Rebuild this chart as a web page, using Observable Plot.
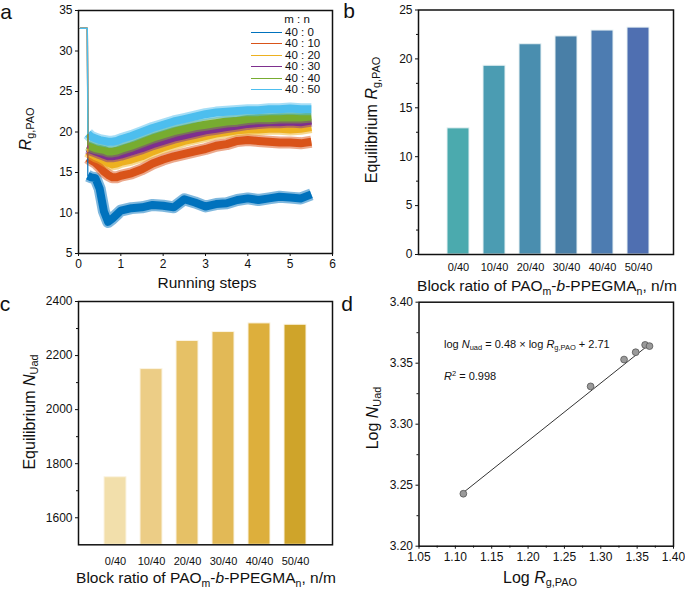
<!DOCTYPE html>
<html><head><meta charset="utf-8">
<script src="https://cdn.jsdelivr.net/npm/d3@7"></script>
<script src="https://cdn.jsdelivr.net/npm/@observablehq/plot@0.6"></script>
<style>
html,body{margin:0;padding:0;background:#fff;}
#fig{position:relative;width:685px;height:590px;overflow:hidden;font-family:"Liberation Sans",Arial,Helvetica,sans-serif;color:#111;}
#fig svg{position:absolute;}
.t{position:absolute;white-space:nowrap;line-height:1;}
.c{transform:translate(-50%,-50%);}
.l{transform:translate(0,-50%);}
.r{transform:translate(-50%,-50%) rotate(-90deg);}
sub{font-size:0.68em;vertical-align:-0.32em;line-height:0;}
sup{font-size:0.68em;vertical-align:0.45em;line-height:0;}
</style></head><body><div id="fig"></div>
<script>
// ---------- Panel a: Rg,PAO time series ----------
const steps = [0.04, 0.21, 0.22, 0.3, 0.4, 0.5, 0.6, 0.7, 0.8, 0.9, 1.0, 1.25, 1.5, 1.75, 2.0, 2.25, 2.5, 2.75, 3.0, 3.25, 3.5, 3.75, 4.0, 4.25, 4.5, 4.75, 5.0, 5.25, 5.5];
const series40_0  = [32.8, 32.8, 14.6, 14.4, 14.3, 13.0, 10.2, 8.9, 9.3, 9.8, 10.3, 10.6, 10.7, 11.0, 10.9, 10.7, 11.7, 11.3, 10.8, 11.1, 11.2, 11.6, 11.8, 11.6, 11.8, 12.0, 11.9, 11.8, 12.3];
const series40_10 = [32.8, 32.8, 16.8, 16.5, 16.2, 15.7, 15.1, 14.7, 14.4, 14.4, 14.6, 14.9, 15.4, 16.1, 16.6, 17.0, 17.3, 17.6, 17.9, 18.3, 18.5, 18.9, 19.0, 18.9, 18.8, 18.7, 18.7, 18.6, 18.8];
const series40_20 = [32.8, 32.8, 17.6, 17.3, 17.0, 16.8, 16.5, 16.2, 16.0, 16.1, 16.3, 16.6, 17.0, 17.6, 18.1, 18.5, 18.9, 19.2, 19.5, 19.8, 20.0, 20.2, 20.3, 20.3, 20.4, 20.4, 20.3, 20.4, 20.6];
const series40_30 = [32.8, 32.8, 18.0, 17.8, 17.6, 17.4, 17.2, 17.0, 17.0, 17.1, 17.2, 17.6, 18.0, 18.5, 18.9, 19.3, 19.6, 19.9, 20.2, 20.4, 20.6, 20.8, 21.0, 21.1, 21.2, 21.2, 21.3, 21.2, 21.4];
const series40_40 = [32.8, 32.8, 18.4, 18.2, 18.0, 17.9, 17.8, 17.6, 17.6, 17.7, 17.9, 18.3, 18.8, 19.3, 19.7, 20.1, 20.4, 20.7, 20.9, 21.1, 21.3, 21.4, 21.6, 21.7, 21.7, 21.8, 21.8, 21.8, 21.9];
const series40_50 = [32.8, 32.8, 19.8, 19.4, 19.2, 19.0, 18.9, 18.8, 18.8, 18.9, 19.1, 19.5, 20.0, 20.5, 20.9, 21.3, 21.6, 21.9, 22.2, 22.4, 22.5, 22.6, 22.7, 22.7, 22.8, 22.8, 22.9, 22.8, 22.8];
const seriesNames = ["40 : 0", "40 : 10", "40 : 20", "40 : 30", "40 : 40", "40 : 50"];
const seriesColors = ["#0072BD", "#D95319", "#EDB120", "#7E2F8E", "#77AC30", "#4DBEEE"];
const aXTicks = [0, 1, 2, 3, 4, 5, 6];
const aYTicks = [5, 10, 15, 20, 25, 30, 35];

// ---------- Panels b, c ----------
const ratioLabels = ["0/40", "10/40", "20/40", "30/40", "40/40", "50/40"];
const rgEquilibrium = [12.9, 19.3, 21.5, 22.3, 22.9, 23.2];
const nuadEquilibrium = [1750, 2150, 2254, 2287, 2319, 2314];
const barColorsB = ["#4baaae", "#4b9cb2", "#4a8eaf", "#497fa7", "#4d7cb1", "#4f6fb1"];
const barColorsC = ["#f2dfab", "#eccd86", "#e6c166", "#e2b956", "#ddaf3c", "#cfa42a"];
const bYTicks = [0, 5, 10, 15, 20, 25];
const bYMinor = [2.5, 7.5, 12.5, 17.5, 22.5];
const cYTicks = [1600, 1800, 2000, 2200, 2400];
const cYMinor = [1700, 1900, 2100, 2300];
const cYDomain = [1500, 2400];

// ---------- Panel d ----------
const logRg = [1.111, 1.286, 1.332, 1.348, 1.361, 1.367];
const logNuad = [3.243, 3.331, 3.353, 3.359, 3.365, 3.364];
const fitLogRg = [1.111, 1.368];
const fitLogNuad = [3.244, 3.366];
const dXTicks = [1.05, 1.10, 1.15, 1.20, 1.25, 1.30, 1.35, 1.40];
const dXMinor = [1.075, 1.125, 1.175, 1.225, 1.275, 1.325, 1.375];
const dYTicks = [3.20, 3.25, 3.30, 3.35, 3.40];
const dYMinor = [3.225, 3.275, 3.325, 3.375];

const fig = document.getElementById("fig");
const baseStyle = {fontFamily: "'Liberation Sans', Arial, Helvetica, sans-serif", fontSize: "12px", color: "#111", background: "transparent", overflow: "visible"};
const intFmt = d3.format("d");
function put(svg, left, top) { svg.style.left = left + "px"; svg.style.top = top + "px"; fig.appendChild(svg); return svg; }
function txt(html, x, y, cls, size) {
  const d = document.createElement("div");
  d.className = "t " + cls; d.innerHTML = html;
  d.style.left = x + "px"; d.style.top = y + "px"; d.style.fontSize = size + "px";
  fig.appendChild(d); return d;
}

// Panel a
const rowsA = [];
[series40_0, series40_10, series40_20, series40_30, series40_40, series40_50].forEach((vals, i) =>
  steps.forEach((s, j) => rowsA.push({series: seriesNames[i], step: s, rg: vals[j]})));
const marksA = [];
seriesNames.forEach(name => {
  const body = rowsA.filter(r => r.series === name && r.step >= 0.22);
  marksA.push(Plot.line(body, {x: "step", y: "rg", stroke: "series", strokeWidth: 12, strokeOpacity: 0.5, strokeLinecap: "butt"}));
  marksA.push(Plot.line(body, {x: "step", y: "rg", stroke: "series", strokeWidth: 8, strokeLinecap: "butt"}));
});
marksA.push(Plot.line(rowsA.filter(r => r.step <= 0.22), {x: "step", y: "rg", z: "series", stroke: "series", strokeWidth: 1.2}));
put(Plot.plot({
  width: 342, height: 295, marginLeft: 78, marginRight: 10, marginTop: 10, marginBottom: 42,
  x: {domain: [0, 6]}, y: {domain: [5, 35]},
  color: {domain: seriesNames, range: seriesColors},
  style: baseStyle,
  marks: [
    ...marksA,
    Plot.axisX({ticks: aXTicks, tickSize: 3, tickPadding: 3, label: null, tickFormat: intFmt}),
    Plot.axisY({ticks: aYTicks, tickSize: 3, tickPadding: 3, label: null, tickFormat: intFmt}),
    Plot.frame({strokeWidth: 1.5})
  ]
}), 0, 0);

// legend of panel a
txt("m : n", 297, 20, "c", 11.5);
seriesNames.forEach((name, i) => {
  const y = 32.7 + i * 11.45;
  const sw = document.createElement("div");
  sw.style.cssText = `position:absolute;left:251px;top:${y - 0.75}px;width:31px;height:0;border-top:1.5px solid ${seriesColors[i]};`;
  fig.appendChild(sw);
  txt(name, 285, y, "l", 11.5);
});

// Panel b
const dataB = ratioLabels.map((r, i) => ({ratio: r, value: rgEquilibrium[i]}));
put(Plot.plot({
  width: 343, height: 295, marginLeft: 76, marginRight: 12, marginTop: 9.5, marginBottom: 41,
  x: {domain: ratioLabels, type: "band", paddingInner: 0.39, paddingOuter: 0.695, align: 0.54},
  y: {domain: [0, 25]},
  color: {domain: ratioLabels, range: barColorsB},
  style: baseStyle,
  marks: [
    Plot.barY(dataB, {x: "ratio", y: "value", fill: "ratio", stroke: "#e8f2f4", strokeWidth: 1}),
    Plot.axisX({tickSize: 0, tickPadding: 9, label: null, fontSize: 11}),
    Plot.axisY({ticks: bYTicks, tickSize: 3, tickPadding: 3, label: null, tickFormat: intFmt}),
    Plot.axisY({ticks: bYMinor, tickSize: 2, tickFormat: () => "", label: null}),
    Plot.frame({strokeWidth: 1.5})
  ]
}), 342, 0);

// Panel c
const dataC = ratioLabels.map((r, i) => ({ratio: r, value: nuadEquilibrium[i]}));
put(Plot.plot({
  width: 342, height: 295, marginLeft: 78, marginRight: 10, marginTop: 6, marginBottom: 45.7,
  x: {domain: ratioLabels, type: "band", paddingInner: 0.38, paddingOuter: 0.69},
  y: {domain: cYDomain},
  color: {domain: ratioLabels, range: barColorsC},
  style: baseStyle,
  marks: [
    Plot.barY(dataC, {x: "ratio", y1: cYDomain[0], y2: "value", fill: "ratio", stroke: "#fbf4e2", strokeWidth: 1}),
    Plot.axisX({tickSize: 0, tickPadding: 12, label: null, fontSize: 11}),
    Plot.axisY({ticks: cYTicks, tickSize: 3, tickPadding: 3, label: null, tickFormat: intFmt}),
    Plot.axisY({ticks: cYMinor, tickSize: 2, tickFormat: () => "", label: null}),
    Plot.frame({strokeWidth: 1.5})
  ]
}), 0, 295);

// Panel d
const dataD = logRg.map((x, i) => ({x, y: logNuad[i]}));
const fitD = fitLogRg.map((x, i) => ({x, y: fitLogNuad[i]}));
put(Plot.plot({
  width: 343, height: 295, marginLeft: 76.5, marginRight: 12, marginTop: 6.7, marginBottom: 44.3,
  x: {domain: [1.05, 1.40]}, y: {domain: [3.20, 3.40]},
  style: baseStyle,
  marks: [
    Plot.line(fitD, {x: "x", y: "y", stroke: "#333", strokeWidth: 1}),
    Plot.dot(dataD, {x: "x", y: "y", r: 3.4, fill: "#9a9a9a", stroke: "#555", strokeWidth: 0.8}),
    Plot.axisX({ticks: dXTicks, tickSize: 3, tickPadding: 3, label: null, tickFormat: d3.format(".2f")}),
    Plot.axisX({ticks: dXMinor, tickSize: 2, tickFormat: () => "", label: null}),
    Plot.axisY({ticks: dYTicks, tickSize: 3, tickPadding: 3, label: null, tickFormat: d3.format(".2f")}),
    Plot.axisY({ticks: dYMinor, tickSize: 2, tickFormat: () => "", label: null}),
    Plot.frame({strokeWidth: 1.5})
  ]
}), 342, 295);

// Text: panel tags, axis titles, annotations
txt("a", 6, 11, "c", 21);
txt("b", 349, 10, "c", 21);
txt("c", 5, 303, "c", 21);
txt("d", 347, 303, "c", 21);

txt("<i>R</i><sub>g,PAO</sub>", 26, 129, "r", 16);
txt("Running steps", 207, 283, "c", 15.5);
txt("Equilibrium <i>R</i><sub>g,PAO</sub>", 372, 120, "r", 16);
txt("Block ratio of PAO<sub>m</sub>-<i>b</i>-PPEGMA<sub>n</sub>, n/m", 547, 286, "c", 15.5);
txt("Equilibrium <i>N</i><sub>Uad</sub>", 30, 412, "r", 16);
txt("Block ratio of PAO<sub>m</sub>-<i>b</i>-PPEGMA<sub>n</sub>, n/m", 206, 578, "c", 15.5);
txt("Log <i>N</i><sub>Uad</sub>", 373, 418, "r", 16);
txt("Log <i>R</i><sub>g,PAO</sub>", 540, 578, "c", 16);
txt("log <i>N</i><sub>uad</sub> = 0.48 × log <i>R</i><sub>g,PAO</sub> + 2.71", 444, 344, "l", 11);
txt("<i>R</i><sup>2</sup> = 0.998", 444, 376, "l", 11);
</script></body></html>
